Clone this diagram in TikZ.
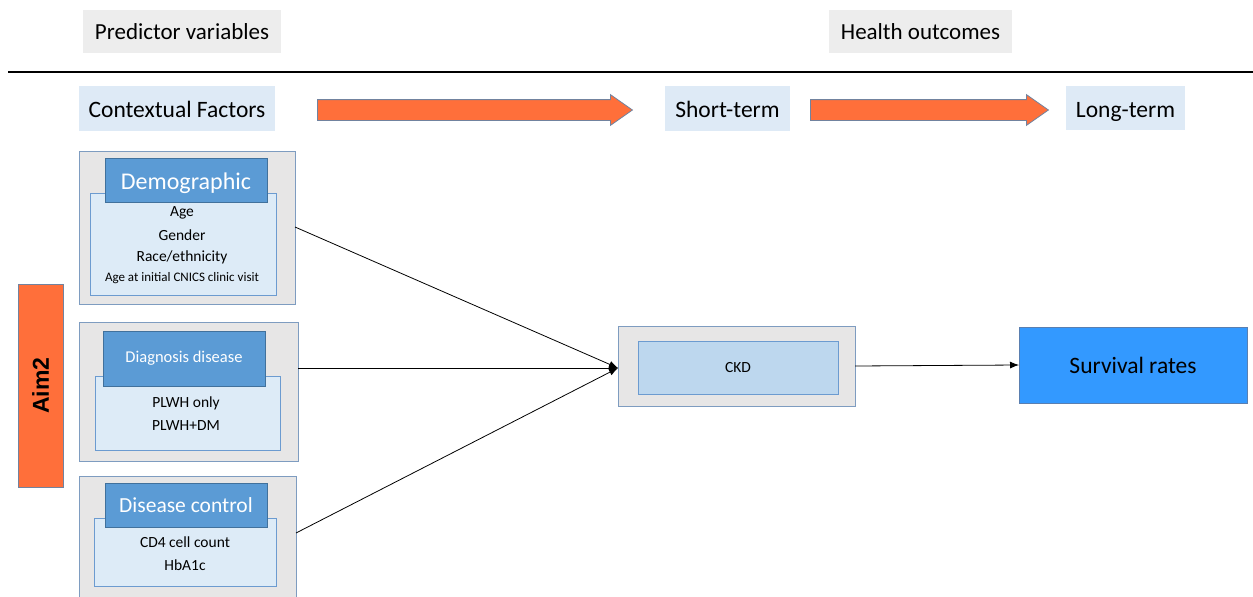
\documentclass[tikz,border=0pt]{standalone}
\usepackage{fontspec}
\setmainfont{Carlito}
\newfontfamily\aimfont{Liberation Sans}
\usetikzlibrary{shapes.arrows,arrows.meta}
\definecolor{grayhead}{HTML}{EDEDED}
\definecolor{lblue}{HTML}{DEEAF6}
\definecolor{outgray}{HTML}{E7E6E6}
\definecolor{outedge}{HTML}{7E9CC0}
\definecolor{hdrblue}{HTML}{5B9BD5}
\definecolor{hdredge}{HTML}{41719C}
\definecolor{innfill}{HTML}{DDEBF7}
\definecolor{innedge}{HTML}{6C9BD0}
\definecolor{ckdfill}{HTML}{BDD7EE}
\definecolor{orng}{HTML}{FF6F3A}
\definecolor{arredge}{HTML}{71839F}
\definecolor{survblue}{HTML}{3399FF}
\definecolor{survedge}{HTML}{5A7FB0}
\tikzset{
  box/.style={inner sep=0pt, outer sep=0pt, anchor=north west},
  toplabel/.style={box, fill=grayhead, font=\fontsize{23}{26}\selectfont, text height=18pt, text depth=2pt},
  sublabel/.style={box, fill=lblue, font=\fontsize{23.5}{26}\selectfont, text height=20pt, text depth=2pt},
  outerbox/.style={box, fill=outgray, draw=outedge, line width=0.9pt},
  innerbox/.style={box, fill=innfill, draw=innedge, line width=0.9pt, align=center},
  hdrbox/.style={box, fill=hdrblue, draw=hdredge, line width=0.9pt, text=white},
  blockarrow/.style={single arrow, fill=orng, draw=arredge, line width=0.8pt,
     inner sep=10pt, single arrow head extend=5pt, single arrow tip angle=70,
     anchor=west, minimum width=30pt},
  link/.style={line width=0.8pt, -{Latex[length=9pt,width=7pt]}},
  item/.style={font=\fontsize{15.5}{18}\selectfont, inner sep=0pt}
}
\begin{document}
\begin{tikzpicture}[x=1pt,y=-1pt]
\useasboundingbox (0,0) rectangle (1253,597);
% header labels
\node[toplabel, minimum width=198pt, minimum height=43pt] (pv) at (83,10) {Predictor variables};
\node[toplabel, minimum width=183pt, minimum height=43pt] (ho) at (829,10) {Health outcomes};
\coordinate (l1) at (8,72);
\coordinate (l2) at (1253,72);
\draw[line width=2.6pt] (l1) -- (l2);
% row labels
\node[sublabel, minimum width=196pt, minimum height=45pt] (cf) at (79,86) {Contextual Factors};
\node[sublabel, minimum width=125pt, minimum height=45pt] (st) at (665,86) {Short-term};
\node[sublabel, minimum width=119pt, minimum height=44pt] (lt) at (1066,86) {Long-term};
\node[blockarrow, minimum height=315pt] (a1) at (317,110) {};
\node[blockarrow, minimum height=238pt] (a2) at (810,110) {};
% Aim2
\node[box, fill=orng, draw=arredge, line width=0.8pt, minimum width=45pt, minimum height=203pt] (aim) at (18,284) {};
\node[rotate=90, font=\aimfont\bfseries\fontsize{23}{26}\selectfont] (aimt) at (aim.center) {Aim2};
% Demographic
\node[outerbox, minimum width=216pt, minimum height=153pt] (dem) at (79,151) {};
\node[innerbox, minimum width=186pt, minimum height=102pt] (demi) at (90,193) {};
\node[hdrbox, minimum width=162pt, minimum height=44pt, font=\fontsize{24}{27}\selectfont, text height=20pt, text depth=2pt] (demh) at (105,158) {Demographic};
\node[item] (d1) at (182,213) {Age};
\node[item] (d2) at (182,235) {Gender};
\node[item] (d3) at (182,257) {Race/ethnicity};
\node[item, font=\fontsize{13}{15}\selectfont] (d4) at (182,278) {Age at initial CNICS clinic visit};
% Diagnosis disease
\node[outerbox, minimum width=219pt, minimum height=139pt] (dia) at (79,322) {};
\node[innerbox, minimum width=185pt, minimum height=74pt] (diai) at (95,376) {};
\node[hdrbox, minimum width=162pt, minimum height=55pt, font=\fontsize{16.5}{19}\selectfont] (diah) at (103,331) {Diagnosis disease};
\node[item] (g1) at (186,403) {PLWH only};
\node[item] (g2) at (186,426) {PLWH+DM};
% Disease control
\node[outerbox, minimum width=217pt, minimum height=125pt] (dc) at (79,476) {};
\node[innerbox, minimum width=182pt, minimum height=68pt] (dci) at (94,518) {};
\node[hdrbox, minimum width=162pt, minimum height=44pt, font=\fontsize{21.5}{24}\selectfont] (dch) at (105,483) {Disease control};
\node[item] (c1) at (185,542) {CD4 cell count};
\node[item] (c2) at (185,565) {HbA1c};
% CKD
\node[outerbox, minimum width=237pt, minimum height=80pt] (ckd) at (618,326) {};
\node[box, fill=ckdfill, draw=innedge, line width=0.9pt, minimum width=200pt, minimum height=53pt, font=\fontsize{15.5}{18}\selectfont] (ckdi) at (638,341) {CKD};
% Survival
\node[box, fill=survblue, draw=survedge, line width=0.9pt, minimum width=228pt, minimum height=76pt, font=\fontsize{23.5}{27}\selectfont] (surv) at (1019,327) {Survival rates};
% connectors
\coordinate (e1) at (295,227);
\coordinate (e2) at (298,368);
\coordinate (e3) at (296,533);
\coordinate (tip) at (618,368);
\draw[link] (e1) -- (tip);
\draw[link] (e2) -- (tip);
\draw[link] (e3) -- (tip);
\draw[link] (ckd.east) -- (surv.west);
\end{tikzpicture}
\end{document}
